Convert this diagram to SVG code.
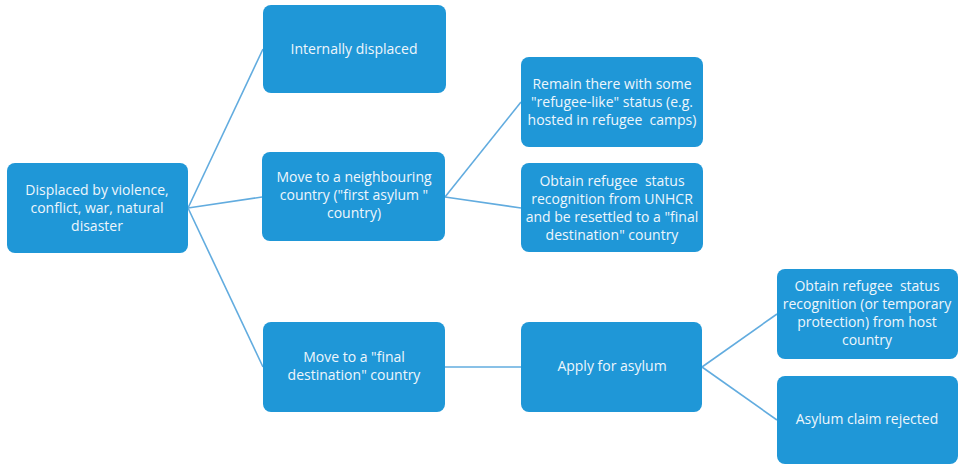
<svg xmlns="http://www.w3.org/2000/svg" width="960" height="466" viewBox="0 0 960 466">
<style>
.box{fill:#1f97d7;stroke:none}
.t{font-family:"Open Sans","Liberation Sans",sans-serif;font-size:14px;fill:#eef6fc;text-anchor:middle}
.c{stroke:#62acdf;stroke-width:1.6;fill:none}
</style>
<rect width="960" height="466" fill="#ffffff"/>
<g id="connectors">
<line class="c" x1="188" y1="208" x2="263" y2="49"/>
<line class="c" x1="188" y1="208" x2="262" y2="197"/>
<line class="c" x1="188" y1="208" x2="263" y2="367"/>
<line class="c" x1="445" y1="197" x2="521" y2="102"/>
<line class="c" x1="445" y1="197" x2="521" y2="208"/>
<line class="c" x1="445" y1="367" x2="521" y2="367"/>
<line class="c" x1="702" y1="367" x2="777" y2="314"/>
<line class="c" x1="702" y1="367" x2="777" y2="420"/>
</g>
<g id="root">
<rect class="box" x="7" y="163" width="181" height="90" rx="8"/>
<text class="t" x="97" y="195">Displaced by violence,</text>
<text class="t" x="97" y="213">conflict, war, natural</text>
<text class="t" x="97" y="231">disaster</text>
</g>
<g id="internal">
<rect class="box" x="263" y="5" width="183" height="88" rx="8"/>
<text class="t" x="354" y="54">Internally displaced</text>
</g>
<g id="neighbour">
<rect class="box" x="262" y="152" width="183" height="89" rx="8"/>
<text class="t" x="354" y="182">Move to a neighbouring</text>
<text class="t" x="354" y="200">country ("first asylum "</text>
<text class="t" x="354" y="218">country)</text>
</g>
<g id="remain">
<rect class="box" x="521" y="57" width="182" height="90" rx="8"/>
<text class="t" x="612" y="89">Remain there with some</text>
<text class="t" x="612" y="107">"refugee-like" status (e.g.</text>
<text class="t" x="612" y="125" xml:space="preserve">hosted in refugee  camps)</text>
</g>
<g id="unhcr">
<rect class="box" x="521" y="163" width="182" height="89" rx="8"/>
<text class="t" x="612" y="186" xml:space="preserve">Obtain refugee  status</text>
<text class="t" x="612" y="204">recognition from UNHCR</text>
<text class="t" x="612" y="222">and be resettled to a "final</text>
<text class="t" x="612" y="240">destination" country</text>
</g>
<g id="final">
<rect class="box" x="263" y="322" width="182" height="90" rx="8"/>
<text class="t" x="354" y="362">Move to a "final</text>
<text class="t" x="354" y="380">destination" country</text>
</g>
<g id="apply">
<rect class="box" x="521" y="322" width="181" height="90" rx="8"/>
<text class="t" x="612" y="371">Apply for asylum</text>
</g>
<g id="host">
<rect class="box" x="777" y="269" width="181" height="90" rx="8"/>
<text class="t" x="867" y="291" xml:space="preserve">Obtain refugee  status</text>
<text class="t" x="867" y="309">recognition (or temporary</text>
<text class="t" x="867" y="327">protection) from host</text>
<text class="t" x="867" y="345">country</text>
</g>
<g id="rejected">
<rect class="box" x="777" y="376" width="181" height="88" rx="8"/>
<text class="t" x="867" y="424">Asylum claim rejected</text>
</g>
</svg>
